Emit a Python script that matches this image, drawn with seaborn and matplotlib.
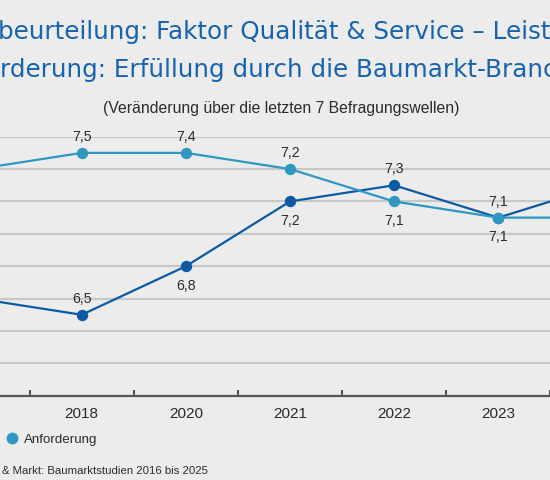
import matplotlib
matplotlib.use("Agg")
import matplotlib.pyplot as plt
from matplotlib.lines import Line2D
import seaborn as sns
import pandas as pd

# data
years = ["2016", "2018", "2020", "2021", "2022", "2023", "2025"]
leistung = [6.6, 6.5, 6.8, 7.2, 7.3, 7.1, 7.3]
anforderung = [7.4, 7.5, 7.5, 7.4, 7.2, 7.1, 7.1]
# printed value labels (as shown in the chart)
leistung_labels = ["6,6", "6,5", "6,8", "7,2", "7,3", "7,1", "7,3"]
anforderung_labels = ["7,4", "7,5", "7,4", "7,2", "7,1", "7,1", "7,1"]
series_names = ["Leistung", "Anforderung"]

title_line1 = "beurteilung: Faktor Qualität & Service – Leistung und"
title_line2 = "rderung: Erfüllung durch die Baumarkt-Branche"
subtitle = "(Veränderung über die letzten 7 Befragungswellen)"
source = "& Markt: Baumarktstudien 2016 bis 2025"

BG = "#ececec"
C_LEIST = "#0b5aa2"
C_ANF = "#2f98c1"
TITLE_C = "#1763ad"
TXT = "#2b2b2b"

sns.set_theme(style="white")
plt.rcParams["font.family"] = ["Liberation Sans", "DejaVu Sans"]

df = pd.DataFrame({
    "pos": list(range(len(years))) * 2,
    "wert": leistung + anforderung,
    "serie": [series_names[0]] * len(years) + [series_names[1]] * len(years),
})

W, H = 550, 480
fig = plt.figure(figsize=(W / 100, H / 100), dpi=100, facecolor=BG)

# plot area is wider than the visible crop
x0, step = 290 - 3.5 * 104.15, 104.15
ax = fig.add_axes([x0 / W, (H - 395.7) / H, 7 * step / W, 259 / H])
ax.set_facecolor(BG)

sns.lineplot(data=df, x="pos", y="wert", hue="serie", palette=[C_LEIST, C_ANF],
             marker="o", markersize=8.2, markeredgewidth=0, linewidth=1.6,
             ax=ax, legend=False)

ax.set_xlim(-0.5, len(years) - 0.5)
ax.set_ylim(6.0, 7.6)
ax.set_yticks([6.0 + 0.2 * i for i in range(9)])
ax.yaxis.grid(True, color="#c8c8c8", linewidth=1.6)
ax.set_axisbelow(True)
ax.tick_params(axis="y", left=False, labelleft=False)
for s in ["top", "left", "right"]:
    ax.spines[s].set_visible(False)
ax.spines["bottom"].set_color("#555555")
ax.spines["bottom"].set_linewidth(1.6)

ax.set_xticks([i + 0.5 for i in range(-1, len(years))])
ax.set_xticklabels([])
ax.tick_params(axis="x", which="major", direction="in", length=4, width=1.5,
               color="#555555", bottom=True)
ax.set_xticks(range(len(years)), minor=True)
ax.set_xticklabels(years, minor=True, fontsize=11, color=TXT)
ax.tick_params(axis="x", which="minor", length=0, pad=8)
ax.set_xlabel("")
ax.set_ylabel("")

# value labels
leist_up = [True, True, False, False, True, True, True]
anf_up = [True, True, True, True, False, False, False]
for vals, labels, ups in [(leistung, leistung_labels, leist_up),
                          (anforderung, anforderung_labels, anf_up)]:
    for i, (v, lab, up) in enumerate(zip(vals, labels, ups)):
        ax.annotate(lab, (i, v), xytext=(0, 11.5 if up else -14),
                    textcoords="offset points", ha="center", va="center",
                    fontsize=10.2, color=TXT, annotation_clip=False)

# titles
title_font = ["DejaVu Sans"]
fig.text(-2 / W, 1 - 39 / H, title_line1, ha="left", va="baseline",
         fontsize=17.7, color=TITLE_C, family=title_font)
fig.text(0 / W, 1 - 77 / H, title_line2, ha="left", va="baseline",
         fontsize=17.7, color=TITLE_C, family=title_font)
fig.text(281 / W, 1 - 109 / H, subtitle, ha="center", va="center",
         fontsize=11.3, color=TXT)

# legend (first entry lies outside the crop)
handles = [Line2D([], [], marker="o", linestyle="", markersize=7.5, color=c)
           for c in [C_LEIST, C_ANF]]
fig.legend(handles, series_names, loc="center right", ncol=2,
           bbox_to_anchor=(97 / W, 1 - 439.5 / H), frameon=False, fontsize=9.6,
           handlelength=0.7, handletextpad=0.5, columnspacing=1.5,
           borderpad=0, borderaxespad=0, labelcolor=TXT)

fig.text(2 / W, 1 - 471 / H, source, ha="left", va="center", fontsize=8.2,
         color=TXT)

fig.savefig("out.png", dpi=100, facecolor=BG)
